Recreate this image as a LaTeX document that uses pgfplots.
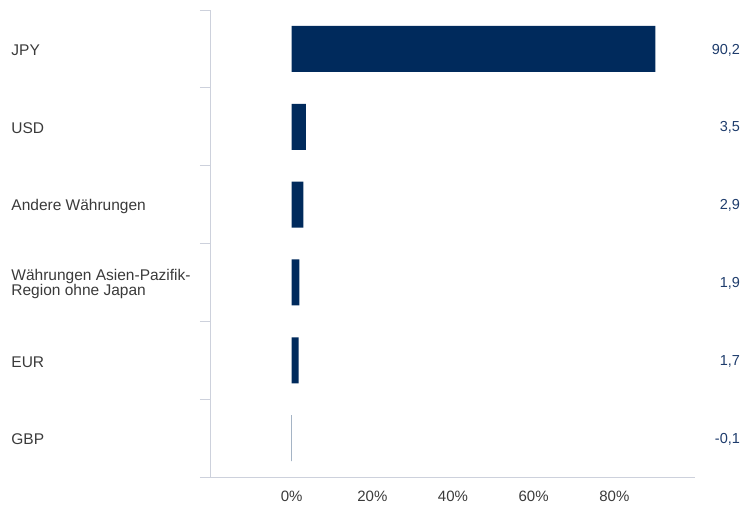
\documentclass[border=0pt]{standalone}
\usepackage{fontspec}
\setmainfont{Liberation Sans}
\usepackage{pgfplots}
\pgfplotsset{compat=1.18}
\definecolor{barblue}{HTML}{002A5C}
\definecolor{valblue}{HTML}{1E3C6C}
\definecolor{axisgray}{HTML}{CDD1DC}
\definecolor{labgray}{HTML}{3A3A3A}
\begin{document}
\begin{tikzpicture}[x=1pt,y=1pt]
\useasboundingbox (0,0) rectangle (742,504);
\begin{axis}[
    at={(211pt,27pt)}, anchor=south west,
    scale only axis,
    width=484pt, height=467pt,
    xmin=-20, xmax=100,
    ymin=-0.5, ymax=5.5,
    y dir=reverse,
    axis x line*=bottom, axis y line*=left,
    axis line style={axisgray, line width=1pt},
    xtick={0,20,40,60,80},
    xticklabels={0\%,20\%,40\%,60\%,80\%},
    x tick label style={font=\fontsize{15}{16}\selectfont, text=labgray, yshift=-6pt},
    major x tick style={draw=none},
    ytick={0,1,2,3,4,5},
    yticklabels={JPY, USD, Andere Währungen, {Währungen Asien-Pazifik-\\Region ohne Japan}, EUR, GBP},
    y tick label style={font=\fontsize{15.5}{15.5}\selectfont, text=labgray, anchor=west, align=left, xshift=-195.5pt, yshift=-1.5pt, inner xsep=0pt},
    major y tick style={draw=none},
    minor ytick={-0.5,0.5,1.5,2.5,3.5,4.5,5.5},
    minor tick length=11pt,
    tick align=outside,
    minor y tick style={axisgray, line width=1pt},
    clip=false,
    /pgf/number format/assume math mode=true,
]
\addplot[xbar, bar width=46pt, fill=barblue, draw=none] coordinates {
    (90.2,0) (3.5,1) (2.9,2) (1.9,3) (1.7,4) (-0.1,5)
};
\addplot[only marks, mark=none, point meta=explicit symbolic,
    nodes near coords,
    every node near coord/.append style={anchor=east, inner xsep=0pt, yshift=-1pt,
        font=\fontsize{14.5}{15}\selectfont, text=valblue}]
    coordinates {
    (111.2,0) [90,2] (111.2,1) [3,5] (111.2,2) [2,9]
    (111.2,3) [1,9] (111.2,4) [1,7] (111.2,5) [-0,1]
};
\end{axis}
\end{tikzpicture}
\end{document}
